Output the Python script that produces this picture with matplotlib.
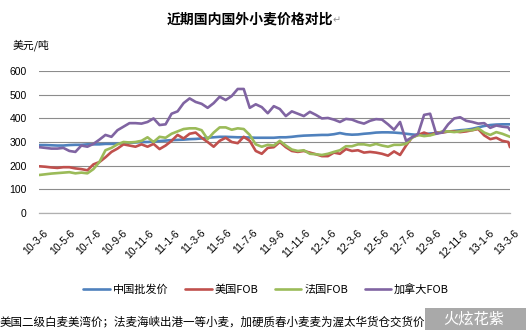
import matplotlib
matplotlib.use("Agg")
import matplotlib.pyplot as plt
import matplotlib.transforms as mtransforms
from matplotlib.patches import Rectangle
import pandas as pd

plt.rcParams['font.family'] = ['Noto Sans CJK SC', 'DejaVu Sans']

# Fortnightly price observations (USD/ton), 2010-03-06 .. 2013-03-06
dates = list(pd.date_range('2010-03-06', periods=79, freq='14D')) + [pd.Timestamp('2013-03-06')]

china_wholesale = [
    287, 287, 286, 285, 285, 287, 288, 288, 290,
    290, 290, 292, 292, 293, 295,
    297, 298, 300, 300, 302, 304, 306,
    308, 309, 310, 312, 313, 315,
    318, 320, 322, 322, 321, 320, 320,
    319, 318, 318, 318, 318, 320,
    320, 322, 325, 327, 328, 329, 330,
    330, 333, 338, 333, 331, 332,
    335, 337, 340, 341, 341, 340, 338,
    335, 332, 330, 333, 336, 338,
    341, 344, 347, 350, 352, 356, 362,
    368, 372, 374, 375, 375, 375,
]

us_fob = [
    197, 195, 192, 190, 193, 193, 188, 185, 180,
    205, 215, 235, 258, 272, 290,
    285, 280, 290, 280, 292, 270, 285,
    305, 330, 315, 335, 340, 318,
    300, 280, 305, 318, 300, 295, 322,
    305, 262, 250, 275, 278, 300,
    278, 262, 258, 262, 255, 248, 240,
    240, 255, 250, 270, 262, 265,
    255, 258, 255, 250, 242, 260, 245,
    285, 320, 330, 340, 330, 340,
    340, 345, 345, 342, 345, 350, 355,
    328, 312, 318, 305, 300, 278,
]

france_fob = [
    160, 163, 166, 168, 170, 172, 167, 170, 167,
    185, 215, 265, 275, 290, 300,
    298, 300, 305, 320, 300, 322, 318,
    335, 345, 355, 358, 358, 350,
    312, 340, 362, 362, 352, 358, 355,
    330, 290, 280, 288, 285, 305,
    285, 268, 262, 265, 250, 248, 245,
    250, 258, 265, 282, 282, 290,
    290, 285, 292, 285, 280, 288, 288,
    292, 318, 330, 325, 328, 335,
    345, 345, 342, 345, 350, 350, 358,
    340, 330, 342, 335, 325, 322,
]

canada_fob = [
    278, 275, 272, 272, 275, 262, 258, 285, 280,
    292, 310, 330, 322, 350, 365,
    380, 380, 378, 385, 400, 372, 375,
    420, 430, 465, 485, 470, 462,
    445, 465, 492, 478, 495, 525, 525,
    445, 460, 448, 422, 452, 440,
    410, 430, 420, 410, 428, 415, 400,
    402, 395, 385, 398, 395, 385,
    378, 390, 397, 395, 375, 352, 385,
    305, 320, 335, 415, 420, 335,
    340, 375, 400, 405, 390, 385, 378,
    380, 360, 370, 365, 362, 350,
]

series_names = ['中国批发价', '美国FOB', '法国FOB', '加拿大FOB']
series_colors = ['#4F81BD', '#C0504D', '#9BBB59', '#8064A2']
series_values = [china_wholesale, us_fob, france_fob, canada_fob]

# Axis labels every two months on the 6th
tick_dates = pd.date_range('2010-03-01', '2013-03-01', freq='2MS') + pd.Timedelta(days=5)
tick_labels = [f"{d.year % 100}-{d.month}-{d.day}" for d in tick_dates]

W, H = 526, 330
fig = plt.figure(figsize=(W / 100, H / 100), dpi=100)
fig.patch.set_facecolor('white')

ax = fig.add_axes([39.3 / W, 1 - 212.7 / H, (510 - 39.3) / W, (212.7 - 71.3) / H])

lines = []
for name, color, vals in zip(series_names, series_colors, series_values):
    ln, = ax.plot(dates, vals, color=color, lw=1.9, label=name,
                  solid_joinstyle='round', solid_capstyle='round')
    lines.append(ln)

ax.set_ylim(0, 600)
ax.set_xlim(dates[0], dates[-1])
ax.set_yticks(range(0, 601, 100))
ax.set_yticklabels([str(v) for v in range(0, 601, 100)],
                   fontfamily='Liberation Sans', fontsize=7.5)
ax.grid(axis='y', color='#8c8c8c', lw=0.8)
ax.set_axisbelow(True)
for s in ['top', 'right', 'left']:
    ax.spines[s].set_visible(False)
ax.spines['bottom'].set_color('#b0b0b0')
ax.spines['bottom'].set_linewidth(0.9)
ax.tick_params(axis='y', length=0, pad=9)
ax.tick_params(axis='x', length=0, pad=11)

ax.set_xticks(tick_dates)
ax.set_xticklabels(tick_labels, rotation=45, ha='right', va='top',
                   rotation_mode='anchor', fontfamily='Liberation Sans', fontsize=7.5)
shift = mtransforms.ScaledTranslation(4 / 100, 0, fig.dpi_scale_trans)
for lab in ax.get_xticklabels():
    lab.set_transform(lab.get_transform() + shift)

# Title, unit label
fig.text(250 / W, 1 - 19 / H, '近期国内国外小麦价格对比', ha='center', va='center',
         fontsize=10, fontweight='bold')
fig.text(337 / W, 1 - 20 / H, '↵', ha='center', va='center', fontsize=7,
         color='#909090', fontfamily='DejaVu Sans')
fig.text(13 / W, 1 - 45 / H, '美元/吨', ha='left', va='center', fontsize=7.8)

# Legend
fig.legend(handles=lines, loc='center', bbox_to_anchor=(266 / W, 1 - 289 / H),
           ncol=4, frameon=False, fontsize=8, handlelength=2.4,
           handletextpad=0.25, columnspacing=1.5)

# Footnote
fig.text(0, 1 - 322 / H,
         '美国二级白麦美湾价；法麦海峡出港一等小麦，加硬质春小麦麦为渥太华货仓交货价。',
         ha='left', va='center', fontsize=8.3)

# Watermark badge in the corner
fig.patches.append(Rectangle((425 / W, 0), (W - 425) / W, 22 / H,
                             transform=fig.transFigure, facecolor='#a9a9a9',
                             edgecolor='none', zorder=5))
fig.text(474 / W, 11 / H, '火炫花紫', ha='center', va='center', fontsize=11,
         color='white', fontstyle='italic', zorder=6)

fig.savefig('out.png', dpi=100, facecolor='white')
